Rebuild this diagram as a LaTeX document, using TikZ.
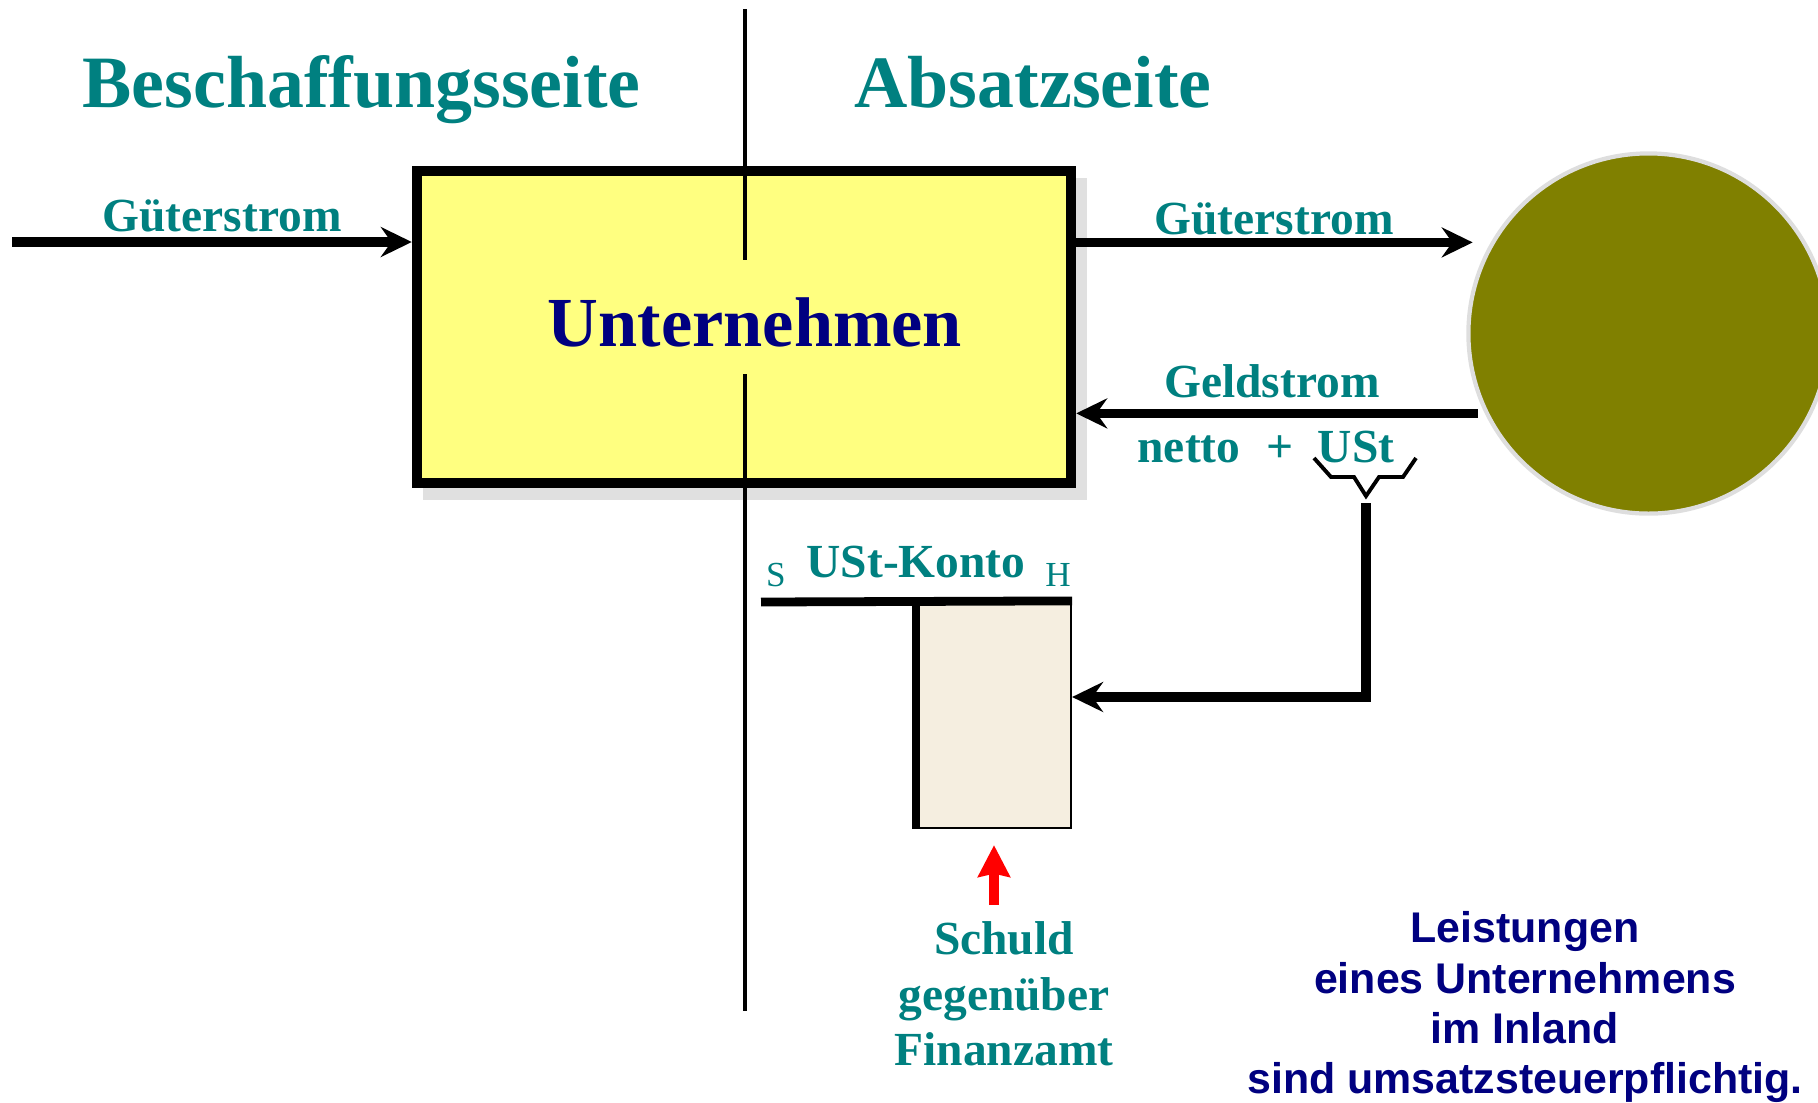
\documentclass[tikz,border=0pt]{standalone}
\usepackage{fontspec}
\setmainfont{Liberation Serif}
\setsansfont{Liberation Sans}
\usetikzlibrary{arrows.meta}
\definecolor{seitenteal}{RGB}{0,128,128}
\definecolor{firmnavy}{RGB}{0,0,128}
\definecolor{firmyellow}{RGB}{255,255,128}
\definecolor{kundeolive}{RGB}{128,128,0}
\definecolor{kontobeige}{RGB}{245,238,224}
\tikzset{flow/.style={line width=2.7pt,-{Stealth[length=8.8pt,width=8.5pt,inset=3pt]}},
         flowtext/.style={font=\fontsize{13.5}{15.8}\selectfont\bfseries,color=seitenteal,anchor=base,inner sep=0},
         seite/.style={font=\fontsize{21}{25}\selectfont\bfseries,color=seitenteal,anchor=base,inner sep=0},
         kontoline/.style={line width=2.5pt}
}

\begin{document}
\begin{tikzpicture}[x=0.01cm,y=-0.01cm]
  \useasboundingbox(0,0)rectangle(1818,1102);
  \fill[black!12](423,178)rectangle(1087,500);
  \node[draw,line width=3pt,fill=firmyellow,minimum width=6.535cm,minimum height=3.115cm,inner sep=0](firm)at(744,327){};
  \node[font=\fontsize{20}{24}\selectfont\bfseries,color=firmnavy,anchor=base,inner sep=0](firmtext)at(755,346.5){Unternehmen};
  \draw[line width=1.3pt](745,9)--(745,260);
  \draw[line width=1.3pt](745,374)--(745,1011);
  \node[circle,fill=kundeolive,draw=black!13,line width=1.2pt,minimum size=3.6cm,inner sep=0](kunde)at(1648.5,333.5){};
  \node[seite](beschaffung)at(361.5,107){Beschaffungsseite};
  \node[seite](absatz)at(1033,107){Absatzseite};
  % Gueterstrom und Geldstrom
  \coordinate(lieferant)at(12,242);
  \draw[flow](lieferant)--(firm.west|-lieferant);
  \node[flowtext](gueterein)at(222,231){Güterstrom};
  \draw[flow,shorten >=0.18cm](firm.east|-kunde.150)--(kunde.150);
  \node[flowtext](gueteraus)at(1274,234){Güterstrom};
  \draw[flow,shorten <=0.07cm](kunde.206)--(firm.east|-kunde.206);
  \node[flowtext](geld)at(1272,397){Geldstrom};
  \node[flowtext](netto)at(1189,462){netto};
  \node[flowtext](plus)at(1280,462){+};
  \node[flowtext](ust)at(1356,462){USt};
  \coordinate(klammer)at(1366,496);
  \draw[line width=1.1pt](1314,458)--(1331,477)--(1354,477)--(klammer)--(1379,477)--(1403,477)--(1416,458);
  % USt-Konto
  \node[draw,line width=0.6pt,fill=kontobeige,minimum width=1.54cm,minimum height=2.26cm,inner sep=0](konto)at(994,715){};
  \coordinate(kontoanfang)at(761,602);
  \draw[kontoline](kontoanfang)--(konto.north east);
  \draw[kontoline](konto.north west)--(konto.south west);
  \draw[flow,shorten <=0.07cm](klammer)|-([yshift=0.18cm]konto.east);
  \node[flowtext](kontoname)at(916,577){USt-Konto};
  \node[font=\fontsize{10}{12}\selectfont,color=seitenteal,anchor=base,inner sep=0](soll)at(776,586){S};
  \node[font=\fontsize{10}{12}\selectfont,color=seitenteal,anchor=base,inner sep=0](haben)at(1058,586){H};
  \node[flowtext,align=center,anchor=north](schuld)at(1004,921){Schuld\\gegenüber\\Finanzamt};
  \draw[line width=2.6pt,red,-{Stealth[length=9pt,width=9pt,inset=0.9pt]},shorten <=0.16cm](konto.south|-schuld.north)--([yshift=-0.16cm]konto.south);
  \node[font=\fontsize{12.2}{14.3}\selectfont\sffamily\bfseries,color=firmnavy,align=center,anchor=north,inner sep=0](hinweis)at(1525,911){Leistungen\\eines Unternehmens\\im Inland\\sind umsatzsteuerpflichtig.};
\end{tikzpicture}
\end{document}
